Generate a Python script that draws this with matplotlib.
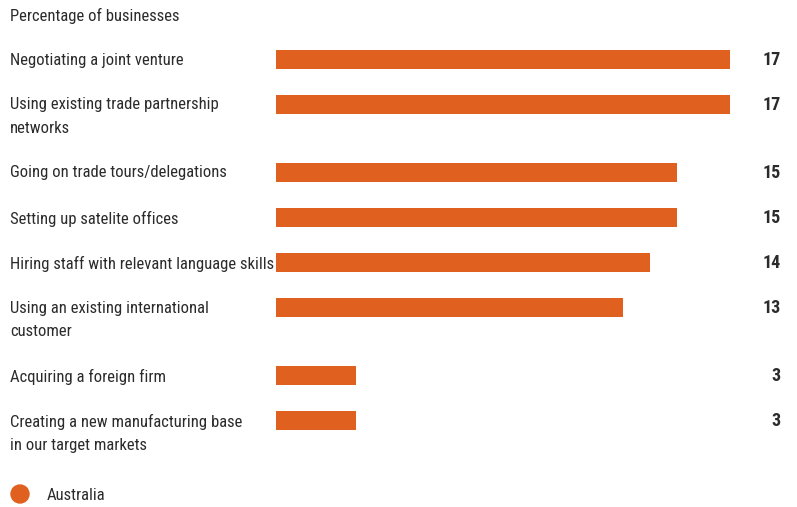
import matplotlib
matplotlib.use("Agg")
import matplotlib.pyplot as plt
from matplotlib.patches import Ellipse

# Share of businesses using each entry strategy
labels = [
    "Negotiating a joint venture",
    "Using existing trade partnership\nnetworks",
    "Going on trade tours/delegations",
    "Setting up satelite offices",
    "Hiring staff with relevant language skills",
    "Using an existing international\ncustomer",
    "Acquiring a foreign firm",
    "Creating a new manufacturing base\nin our target markets",
]
values = [17, 17, 15, 15, 14, 13, 3, 3]
series_name = "Australia"
subtitle = "Percentage of businesses"

ORANGE = "#e0601f"
TEXT = "#2b2b2b"
FS = 12

plt.rcParams["font.family"] = ["Roboto Condensed", "DejaVu Sans"]

W, H = 797, 507
fig = plt.figure(figsize=(W / 100, H / 100), dpi=100)

# bar axes: x in data units, y in pixel rows from the top
x0, x1 = 276, 730
ax = fig.add_axes([x0 / W, 0, (x1 - x0) / W, 1])
ax.set_xlim(0, max(values))
ax.set_ylim(H, 0)
ax.axis("off")

# row centres: extra room for wrapped labels
ys = []
y = 59.5
for lab in labels:
    ys.append(y)
    y += 45 + 23 * lab.count("\n")

ax.barh(ys, values, height=19, color=ORANGE, left=0)

ytrans = ax.get_yaxis_transform()
for yc, lab, v in zip(ys, labels, values):
    ax.text((10 - x0) / (x1 - x0), yc - 7, lab, transform=ytrans,
            ha="left", va="top", fontsize=FS, color=TEXT,
            linespacing=1.72)
    ax.text((781 - x0) / (x1 - x0), yc + 0.5, f"{v}", transform=ytrans,
            ha="right", va="center", fontsize=13, color=TEXT,
            fontweight="bold")

fig.text(10 / W, 1 - 16 / H, subtitle, ha="left", va="center",
         fontsize=FS, color=TEXT)

# legend
fig.patches.append(Ellipse((20 / W, 1 - 494 / H), 18 / W, 18 / H,
                           transform=fig.transFigure, color=ORANGE))
fig.text(47 / W, 1 - 495 / H, series_name, ha="left", va="center",
         fontsize=FS, color=TEXT)

fig.savefig("out.png", dpi=100)
